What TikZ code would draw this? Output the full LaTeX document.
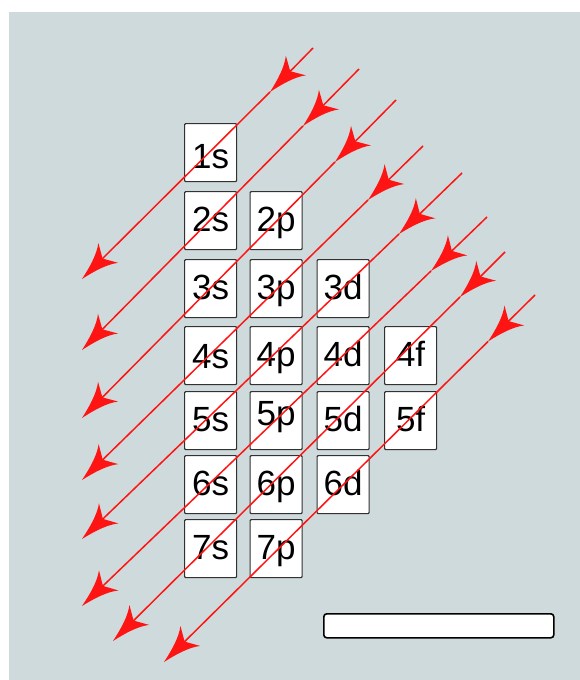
\documentclass[tikz,border=0pt]{standalone}
\usepackage{fontspec}
\setmainfont{Liberation Sans}
\usetikzlibrary{arrows.meta}
\definecolor{bgc}{RGB}{206,218,219}
\definecolor{boxline}{RGB}{50,50,50}
\definecolor{arrowred}{RGB}{255,20,20}
\pgfdeclarearrow{
  name=Barbhead,
  setup code={
    \pgfarrowssettipend{0pt}
    \pgfarrowssetlineend{-24pt}
    \pgfarrowssetbackend{-37pt}
    \pgfarrowssetvisualbackend{-29pt}
  },
  drawing code={
    \pgfpathmoveto{\pgfqpoint{0pt}{0pt}}
    \pgfpathcurveto{\pgfqpoint{-14pt}{3pt}}{\pgfqpoint{-28pt}{7pt}}{\pgfqpoint{-37pt}{14pt}}
    \pgfpathlineto{\pgfqpoint{-29pt}{0pt}}
    \pgfpathlineto{\pgfqpoint{-37pt}{-14pt}}
    \pgfpathcurveto{\pgfqpoint{-28pt}{-7pt}}{\pgfqpoint{-14pt}{-3pt}}{\pgfqpoint{0pt}{0pt}}
    \pgfpathclose
    \pgfusepathqfill
  }
}
\tikzset{
  orb/.style={draw=boxline, line width=1.2pt, fill=white, rounded corners=1pt,
    minimum width=52pt, minimum height=58pt, inner sep=0pt, anchor=north west,
    text height=25pt, text depth=3pt,
    font=\fontsize{35}{40}\selectfont},
  flow/.style={color=arrowred, line width=1.5pt, -Barbhead},
  blank/.style={draw=black, line width=1.6pt, fill=white, rounded corners=3pt}
}
\begin{document}
\begin{tikzpicture}[x=1pt, y=-1pt]
\useasboundingbox (0,0) rectangle (580,680);
\fill[bgc] (9,12) rectangle (580,680);
% orbital boxes
\node[orb] (o1s) at (184,123) {\raisebox{-5pt}{1s}};
\node[orb] (o2s) at (184,191) {2s};
\node[orb] (o2p) at (249.5,191) {2p};
\node[orb] (o3s) at (184,259) {3s};
\node[orb] (o3p) at (249.5,259) {3p};
\node[orb] (o3d) at (316.5,259) {3d};
\node[orb] (o4s) at (184,326) {\raisebox{-2pt}{4s}};
\node[orb] (o4p) at (249.5,326) {4p};
\node[orb] (o4d) at (316.5,326) {4d};
\node[orb] (o4f) at (384,326) {4f};
\node[orb] (o5s) at (184,391) {5s};
\node[orb] (o5p) at (249.5,391) {\raisebox{6pt}{5p}};
\node[orb] (o5d) at (316.5,391) {5d};
\node[orb] (o5f) at (384,391) {5f};
\node[orb] (o6s) at (184,455) {6s};
\node[orb] (o6p) at (249.5,455) {6p};
\node[orb] (o6d) at (316.5,455) {6d};
\node[orb] (o7s) at (184,519) {7s};
\node[orb] (o7p) at (249.5,519) {7p};
% empty bar
\node[blank, minimum width=230pt, minimum height=24pt, inner sep=0pt, anchor=north west] (bar) at (323,613) {};
% diagonal arrows: start, mid arrow tip, end
\coordinate (s1) at (313,48);  \coordinate (m1) at (270,92);    \coordinate (e1) at (82,279);
\coordinate (s2) at (359,69);  \coordinate (m2) at (303,126);   \coordinate (e2) at (82,350);
\coordinate (s3) at (396,100); \coordinate (m3) at (335,162);   \coordinate (e3) at (82,418);
\coordinate (s4) at (423,146); \coordinate (m4) at (368,200);   \coordinate (e4) at (82,480);
\coordinate (s5) at (462,173); \coordinate (m5) at (399,234);   \coordinate (e5) at (82,539);
\coordinate (s6) at (487,217); \coordinate (m6) at (431,271);   \coordinate (e6) at (82,606);
\coordinate (s7) at (505,252); \coordinate (m7) at (460,297);   \coordinate (e7) at (113,641);
\coordinate (s8) at (535,295); \coordinate (m8) at (488,341.5); \coordinate (e8) at (164,662);
\foreach \i in {1,...,8}{
  \draw[flow] (s\i) -- (m\i);
  \draw[flow] (m\i) -- (e\i);
}
\end{tikzpicture}
\end{document}
